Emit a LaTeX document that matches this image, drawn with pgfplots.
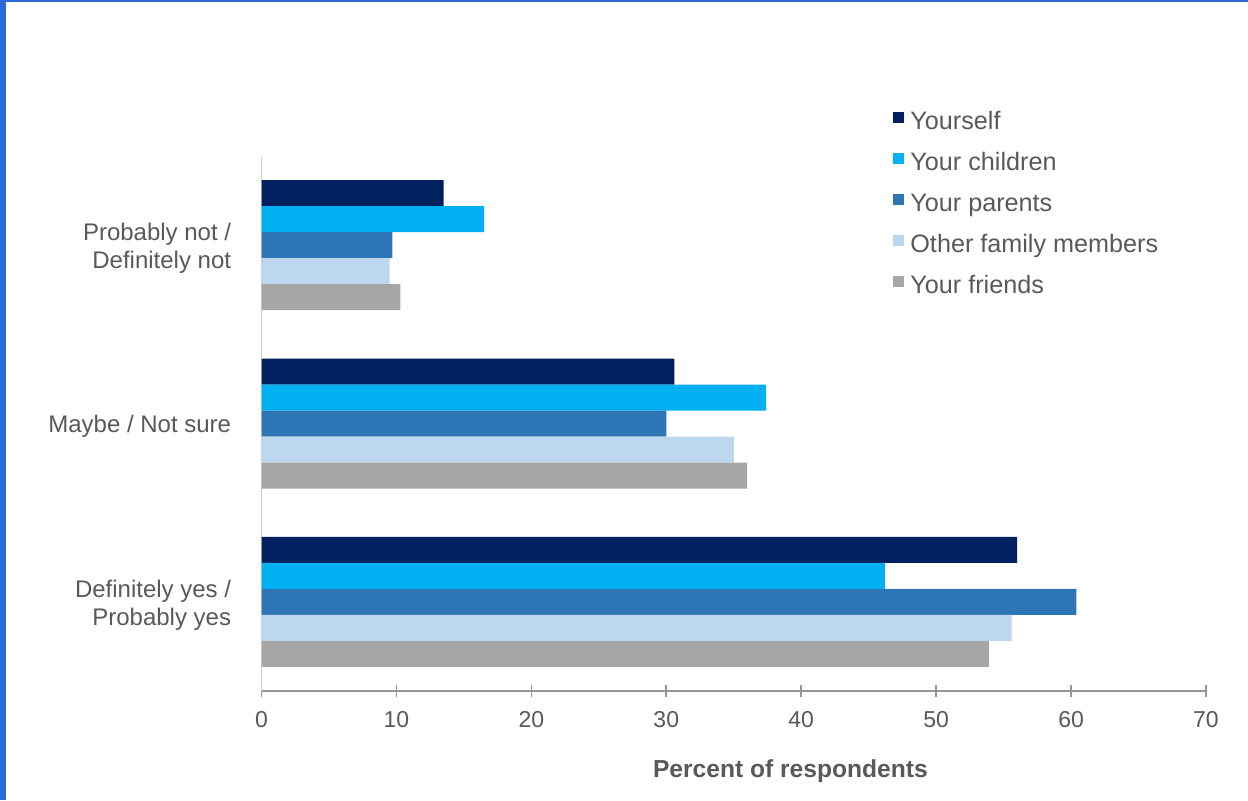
\documentclass[border=0pt]{standalone}
\usepackage{fontspec}
\setmainfont{Liberation Sans}
\usepackage{pgfplots}
\pgfplotsset{compat=1.18}

\definecolor{cYou}{HTML}{002060}
\definecolor{cChild}{HTML}{00B0F0}
\definecolor{cPar}{HTML}{2E75B6}
\definecolor{cOther}{HTML}{BDD7EE}
\definecolor{cFriend}{HTML}{A6A6A6}
\definecolor{txt}{HTML}{595959}
\definecolor{axisgray}{HTML}{969696}
\definecolor{slide}{HTML}{2C69D6}

\begin{document}
\begin{tikzpicture}
% slide background with its blue edge
\fill[white] (0,0) rectangle (624pt,400pt);
\fill[slide] (0,0) rectangle (3pt,400pt);
\fill[slide] (0,399pt) rectangle (624pt,400pt);

\begin{axis}[
  at={(130.75pt,54.5pt)}, anchor=south west,
  scale only axis, width=472.25pt, height=267.5pt,
  xbar, bar width=13pt,
  xmin=0, xmax=70, ymin=-0.5, ymax=2.5,
  axis x line*=bottom, axis y line*=left,
  x axis line style={color=axisgray, line width=0.8pt},
  y axis line style={color=gray!35, line width=0.8pt},
  xtick={0,10,...,70},
  ytick={0,1,2},
  yticklabels={{Definitely yes /\\Probably yes},{Maybe / Not sure},{Probably not /\\Definitely not}},
  tick align=center, major tick length=6pt,
  xtick style={color=axisgray, line width=0.8pt},
  ytick style={draw=none},
  /pgf/number format/assume math mode=true,
  xticklabel style={font=\fontsize{11.5}{13}\selectfont, text=txt, inner sep=0pt, yshift=-7pt},
  yticklabel style={font=\fontsize{12}{14}\selectfont, text=txt, inner sep=0pt, align=right, xshift=-12pt, yshift=-1.5pt},
  xlabel={Percent of respondents},
  every axis x label/.style={at={(axis description cs:0.56,-0.1495)}, anchor=center,
    font=\fontsize{12.3}{14}\selectfont\bfseries, text=txt},
  legend style={at={(rel axis cs:0.6686,1.0834)}, anchor=north west, draw=none, fill=none,
    inner sep=0pt, row sep=9.2pt, column sep=3pt,
    nodes={inner sep=0pt, text height=8.8pt, text depth=2.5pt, text=txt,
      font=\fontsize{12.6}{14}\selectfont}},
  legend cell align=left,
  legend image code/.code={\fill[#1] (0pt,0.2pt) rectangle (5.5pt,5.7pt);},
  clip=false,
]
\addplot[fill=cYou, draw=none, bar shift=26pt] coordinates {(56.0,0) (30.6,1) (13.5,2)};
\addplot[fill=cChild, draw=none, bar shift=13pt] coordinates {(46.2,0) (37.4,1) (16.5,2)};
\addplot[fill=cPar, draw=none, bar shift=0pt] coordinates {(60.4,0) (30.0,1) (9.7,2)};
\addplot[fill=cOther, draw=none, bar shift=-13pt] coordinates {(55.6,0) (35.0,1) (9.5,2)};
\addplot[fill=cFriend, draw=none, bar shift=-26pt] coordinates {(53.9,0) (36.0,1) (10.3,2)};
\legend{Yourself, Your children, Your parents, Other family members, Your friends}
\end{axis}
\pgfresetboundingbox
\path (0,0) rectangle (624pt,400pt);
\end{tikzpicture}
\end{document}
